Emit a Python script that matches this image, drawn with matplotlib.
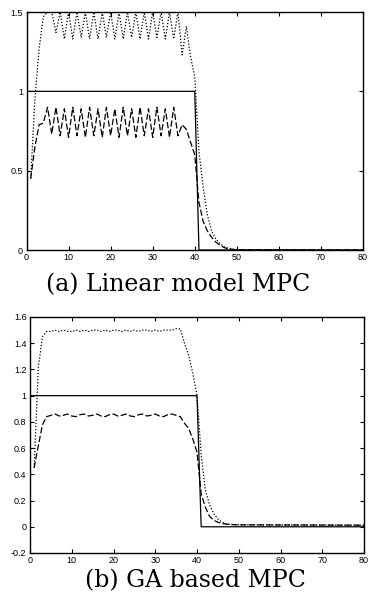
import matplotlib
matplotlib.use("Agg")
import matplotlib.pyplot as plt
import numpy as np

# ---------------- data ----------------
# time axes
t_ref = [0, 40, 41, 80]
t_sim = list(range(1, 51)) + [80]

# (a) Linear model MPC
ref_a = [1, 1, 0, 0]
y_a = [0.45, 0.65, 0.79, 0.80, 0.90, 0.73, 0.90, 0.72, 0.89, 0.71,
       0.90, 0.72, 0.89, 0.71, 0.90, 0.72, 0.89, 0.71, 0.90, 0.72,
       0.89, 0.71, 0.90, 0.72, 0.89, 0.71, 0.90, 0.72, 0.89, 0.71,
       0.90, 0.72, 0.89, 0.71, 0.90, 0.72, 0.79, 0.76, 0.68, 0.60,
       0.30, 0.18, 0.12, 0.08, 0.05, 0.03, 0.015, 0.008, 0.004, 0.002,
       0.0]
u_a = [0.45, 0.95, 1.27, 1.47, 1.50, 1.50, 1.37, 1.50, 1.33, 1.50,
       1.33, 1.50, 1.34, 1.50, 1.33, 1.50, 1.33, 1.50, 1.34, 1.50,
       1.33, 1.50, 1.33, 1.50, 1.34, 1.50, 1.33, 1.50, 1.33, 1.50,
       1.34, 1.50, 1.33, 1.50, 1.33, 1.50, 1.23, 1.41, 1.22, 1.09,
       0.62, 0.40, 0.22, 0.12, 0.07, 0.04, 0.02, 0.01, 0.005, 0.002,
       0.0]

# (b) GA based MPC
ref_b = [1, 1, 0, 0]
y_b = [0.45, 0.62, 0.78, 0.84, 0.85, 0.86, 0.845, 0.85, 0.86, 0.845,
       0.84, 0.855, 0.86, 0.845, 0.85, 0.86, 0.845, 0.84, 0.855, 0.86,
       0.845, 0.85, 0.86, 0.845, 0.84, 0.855, 0.86, 0.845, 0.85, 0.86,
       0.845, 0.84, 0.855, 0.86, 0.85, 0.84, 0.79, 0.75, 0.67, 0.57,
       0.25, 0.15, 0.08, 0.05, 0.035, 0.025, 0.02, 0.018, 0.016, 0.015,
       0.012]
u_b = [0.45, 1.22, 1.45, 1.49, 1.49, 1.50, 1.49, 1.50, 1.49, 1.49,
       1.50, 1.49, 1.50, 1.49, 1.50, 1.50, 1.49, 1.50, 1.49, 1.50,
       1.50, 1.49, 1.50, 1.49, 1.50, 1.49, 1.50, 1.50, 1.49, 1.50,
       1.49, 1.50, 1.50, 1.50, 1.51, 1.51, 1.40, 1.31, 1.17, 1.00,
       0.55, 0.28, 0.17, 0.10, 0.06, 0.035, 0.022, 0.018, 0.015, 0.015,
       0.012]

xticks = [0, 10, 20, 30, 40, 50, 60, 70, 80]
yticks_a = [0, 0.5, 1, 1.5]
yticklabels_a = ["0", "0.5", "1", "1.5"]
yticks_b = [-0.2, 0, 0.2, 0.4, 0.6, 0.8, 1, 1.2, 1.4, 1.6]
yticklabels_b = ["-0.2", "0", "0.2", "0.4", "0.6", "0.8", "1", "1.2", "1.4", "1.6"]
caption_a = "(a) Linear model MPC"
caption_b = "(b) GA based MPC"

# ---------------- figure ----------------
W, H = 368, 607
fig = plt.figure(figsize=(W / 100, H / 100), dpi=100)
fig.patch.set_facecolor("white")

def px_axes(left, right, top, bottom):
    return fig.add_axes([left / W, 1 - bottom / H, (right - left) / W, (bottom - top) / H])

ax_a = px_axes(26.5, 363, 12, 250)
ax_b = px_axes(30, 364, 317, 553)

def style(ax, yticks, ylabels, ylim):
    ax.set_xlim(0, 80)
    ax.set_ylim(*ylim)
    ax.set_xticks(xticks)
    ax.set_xticklabels([str(v) for v in xticks])
    ax.set_yticks(yticks)
    ax.set_yticklabels(ylabels)
    ax.tick_params(direction="in", length=3, width=0.8, top=True, right=True,
                   labelsize=6.5, pad=2.5, colors="black")
    for lab in ax.get_xticklabels() + ax.get_yticklabels():
        lab.set_family(["Liberation Sans", "DejaVu Sans"])
    for s in ax.spines.values():
        s.set_linewidth(1.0)
        s.set_color("black")

lw = 0.9
ax_a.plot(t_ref, ref_a, color="black", lw=lw, ls="-")
ax_a.plot(t_sim, y_a, color="black", lw=lw, ls=(0, (5, 2)))
ax_a.plot(t_sim, u_a, color="black", lw=lw, ls=(0, (1, 1.5)))
style(ax_a, yticks_a, yticklabels_a, (0, 1.5))

ax_b.plot(t_ref, ref_b, color="black", lw=lw, ls="-")
ax_b.plot(t_sim, y_b, color="black", lw=lw, ls=(0, (5, 2)))
ax_b.plot(t_sim, u_b, color="black", lw=lw, ls=(0, (1, 1.5)))
style(ax_b, yticks_b, yticklabels_b, (-0.2, 1.6))

fig.text(178 / W, 1 - 285 / H, caption_a, ha="center", va="center",
         fontsize=17, family=["DejaVu Serif"])
fig.text(195 / W, 1 - 581 / H, caption_b, ha="center", va="center",
         fontsize=17, family=["DejaVu Serif"])

fig.savefig("out.png", dpi=100, facecolor="white")
